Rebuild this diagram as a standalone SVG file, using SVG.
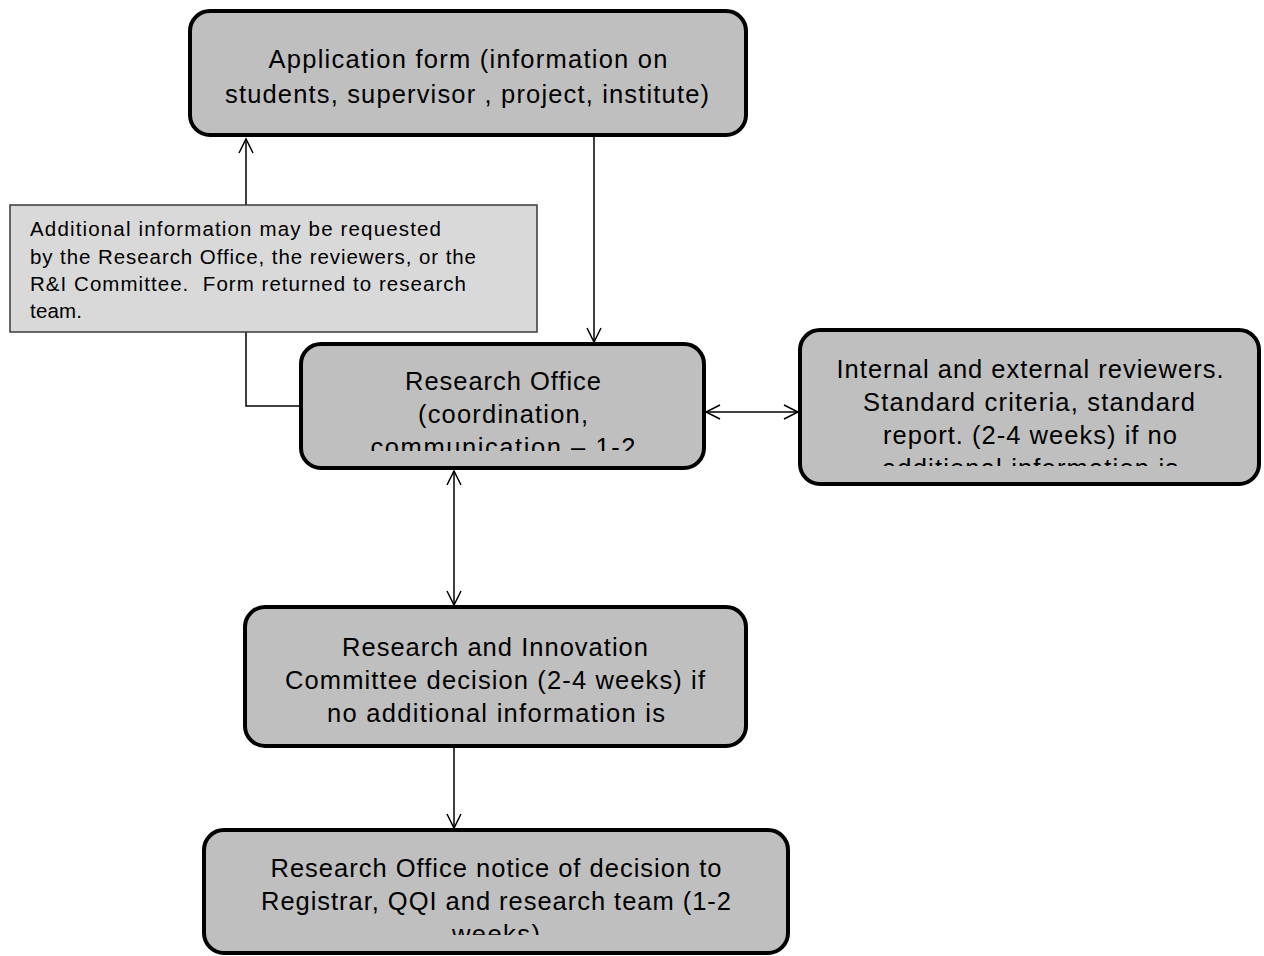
<svg xmlns="http://www.w3.org/2000/svg" width="1264" height="956" viewBox="0 0 1264 956">
<style>
.box{fill:#bfbfbf;stroke:#000;stroke-width:4}
.note{fill:#d9d9d9;stroke:#3a3a3a;stroke-width:1.5}
.t{font-family:"Liberation Sans",Arial,sans-serif;font-size:25.5px;fill:#000;text-anchor:middle}
.n{font-family:"Liberation Sans",Arial,sans-serif;font-size:20.5px;fill:#000;white-space:pre}
.c{fill:none;stroke:#000;stroke-width:1.5}
</style>
<defs>
<marker id="ah" markerWidth="20" markerHeight="20" refX="15" refY="10" orient="auto-start-reverse" markerUnits="userSpaceOnUse">
<path d="M1,3 L15,10 L1,17" fill="none" stroke="#000" stroke-width="1.5"/>
</marker>
<clipPath id="cB"><rect x="301" y="344" width="403" height="107"/></clipPath>
<clipPath id="cC"><rect x="800" y="330" width="459" height="136"/></clipPath>
<clipPath id="cD"><rect x="245" y="607" width="501" height="121"/></clipPath>
<clipPath id="cE"><rect x="204" y="830" width="584" height="105"/></clipPath>
</defs>
<g id="connectors">
<line class="c" x1="594" y1="137" x2="594" y2="342" marker-end="url(#ah)"/>
<polyline class="c" points="301,406 246,406 246,139" marker-end="url(#ah)"/>
<line class="c" x1="706" y1="412" x2="798" y2="412" marker-start="url(#ah)" marker-end="url(#ah)"/>
<line class="c" x1="454" y1="471" x2="454" y2="605" marker-start="url(#ah)" marker-end="url(#ah)"/>
<line class="c" x1="454" y1="748" x2="454" y2="828" marker-end="url(#ah)"/>
</g>
<g id="app-form">
<rect class="box" x="190" y="11" width="556" height="124" rx="20"/>
<text class="t" x="468" y="68" textLength="399">Application form (information on</text>
<text class="t" x="467" y="103" textLength="484">students, supervisor , project, institute)</text>
</g>
<g id="note">
<rect class="note" x="10" y="205" width="527" height="127"/>
<text class="n" x="30" y="236" textLength="411">Additional information may be requested</text>
<text class="n" x="30" y="264" textLength="446">by the Research Office, the reviewers, or the</text>
<text class="n" x="30" y="291" textLength="436">R&amp;I Committee.  Form returned to research</text>
<text class="n" x="30" y="318" textLength="52">team.</text>
</g>
<g id="research-office">
<rect class="box" x="301" y="344" width="403" height="124" rx="20"/>
<g clip-path="url(#cB)">
<text class="t" x="503" y="390" textLength="196">Research Office</text>
<text class="t" x="503" y="423" textLength="170">(coordination,</text>
<text class="t" x="503" y="456" textLength="265">communication – 1-2</text>
</g>
</g>
<g id="reviewers">
<rect class="box" x="800" y="330" width="459" height="154" rx="20"/>
<g clip-path="url(#cC)">
<text class="t" x="1030" y="378" textLength="387">Internal and external reviewers.</text>
<text class="t" x="1029" y="411" textLength="332">Standard criteria, standard</text>
<text class="t" x="1030" y="444" textLength="294">report. (2-4 weeks) if no</text>
<text class="t" x="1030" y="477" textLength="296">additional information is</text>
</g>
</g>
<g id="committee">
<rect class="box" x="245" y="607" width="501" height="139" rx="20"/>
<g clip-path="url(#cD)">
<text class="t" x="495" y="656" textLength="306">Research and Innovation</text>
<text class="t" x="495" y="689" textLength="420">Committee decision (2-4 weeks) if</text>
<text class="t" x="496" y="722" textLength="338">no additional information is</text>
</g>
</g>
<g id="notice">
<rect class="box" x="204" y="830" width="584" height="123" rx="20"/>
<g clip-path="url(#cE)">
<text class="t" x="496" y="877" textLength="451">Research Office notice of decision to</text>
<text class="t" x="496" y="910" textLength="470">Registrar, QQI and research team (1-2</text>
<text class="t" x="496" y="943" textLength="88">weeks)</text>
</g>
</g>
</svg>
